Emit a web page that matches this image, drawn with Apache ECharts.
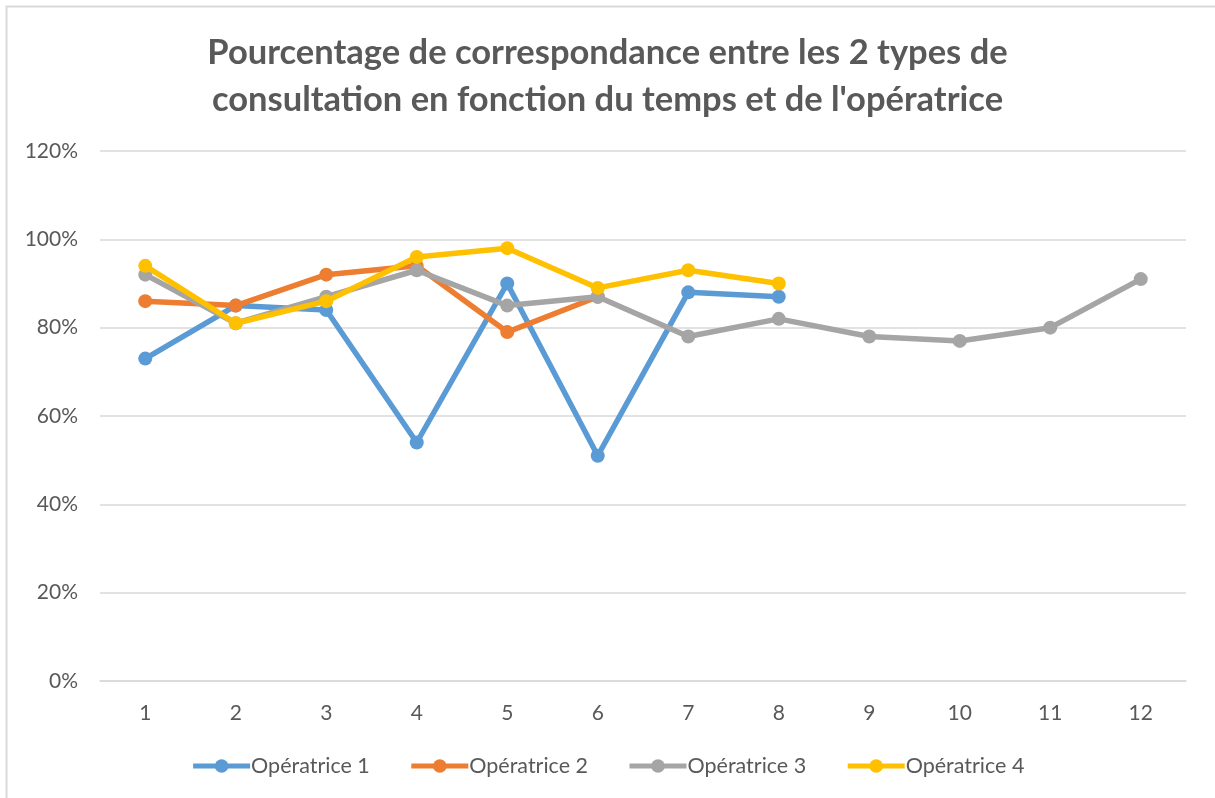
<!DOCTYPE html>
<html>
<head>
<meta charset="utf-8">
<script src="https://cdn.jsdelivr.net/npm/echarts@6/dist/echarts.min.js"></script>
<style>
  html, body { margin: 0; padding: 0; background: #fff; }
  #chart { width: 1215px; height: 798px; }
</style>
</head>
<body>
<div id="chart"></div>
<script>
// Time steps (x axis)
const periods = ['1', '2', '3', '4', '5', '6', '7', '8', '9', '10', '11', '12'];

// Match percentage per operator
const operatrice1 = [73, 85, 84, 54, 90, 51, 88, 87];
const operatrice2 = [86, 85, 92, 94, 79, 87];
const operatrice3 = [92, 81, 87, 93, 85, 87, 78, 82, 78, 77, 80, 91];
const operatrice4 = [94, 81, 86, 96, 98, 89, 93, 90];

const seriesNames = ['Opératrice 1', 'Opératrice 2', 'Opératrice 3', 'Opératrice 4'];
const seriesData = [operatrice1, operatrice2, operatrice3, operatrice4];
const seriesColors = ['#5B9BD5', '#ED7D31', '#A5A5A5', '#FFC000'];

const textColor = '#595959';
const fontFamily = 'Lato, "Open Sans", sans-serif';

const chart = echarts.init(document.getElementById('chart'));

chart.setOption({
  backgroundColor: '#ffffff',
  animation: false,
  graphic: [{
    type: 'rect',
    shape: { x: 6.5, y: 6.5, width: 1400, height: 1000 },
    style: { fill: 'none', stroke: '#D9D9D9', lineWidth: 2 },
    silent: true
  }],
  title: {
    text: 'Pourcentage de correspondance entre les 2 types de\nconsultation en fonction du temps et de l\'opératrice',
    left: 'center',
    top: 24,
    textStyle: {
      color: textColor,
      fontFamily: fontFamily,
      fontWeight: 'bold',
      fontSize: 34.5,
      lineHeight: 47
    }
  },
  legend: {
    data: seriesNames,
    bottom: 16,
    left: 'center',
    itemWidth: 57,
    itemHeight: 17,
    itemGap: 39,
    lineStyle: { width: 5 },
    textStyle: { color: textColor, fontFamily: fontFamily, fontSize: 21.5, padding: [0, 0, 0, -4] }
  },
  grid: {
    left: 100,
    right: 29,
    top: 151,
    bottom: 117,
    containLabel: false
  },
  xAxis: {
    type: 'category',
    data: periods,
    boundaryGap: true,
    axisLine: { lineStyle: { color: '#D9D9D9', width: 1.5 } },
    axisTick: { show: false },
    axisLabel: { color: textColor, fontFamily: fontFamily, fontSize: 21, margin: 22 }
  },
  yAxis: {
    type: 'value',
    min: 0,
    max: 120,
    interval: 20,
    axisLine: { show: false },
    axisTick: { show: false },
    splitLine: { lineStyle: { color: '#D9D9D9', width: 1.5 } },
    axisLabel: {
      color: textColor,
      fontFamily: fontFamily,
      fontSize: 21,
      margin: 22,
      formatter: v => v + '%'
    }
  },
  series: seriesNames.map((name, i) => ({
    name: name,
    type: 'line',
    data: seriesData[i],
    symbol: 'circle',
    symbolSize: 14,
    lineStyle: { color: seriesColors[i], width: 5.5 },
    itemStyle: { color: seriesColors[i] },
    z: 2 + i
  }))
});
</script>
</body>
</html>
